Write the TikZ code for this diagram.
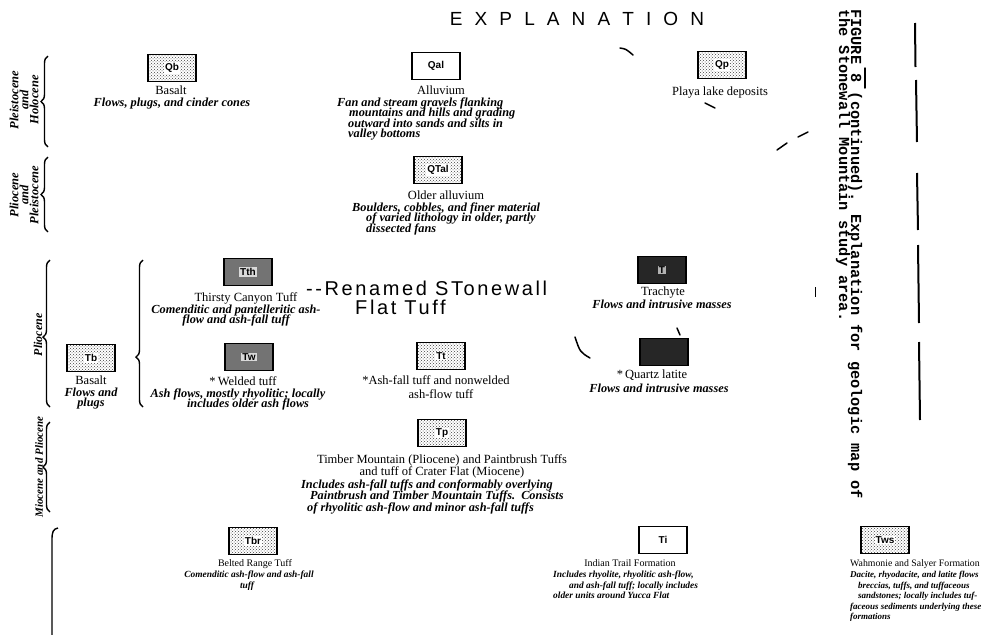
\documentclass[tikz,border=0pt]{standalone}
\usepackage{fontspec}
\setmainfont{Liberation Serif}
\newfontfamily\sansf{Liberation Sans}
\newfontfamily\monof{Liberation Mono}
\newfontfamily\handf[LetterSpace=13]{Liberation Sans}
\newfontfamily\titlef[LetterSpace=36]{Liberation Sans}
\usetikzlibrary{patterns,decorations.pathreplacing}
\begin{document}
\begin{tikzpicture}[x=1pt,y=-1pt,
  ubox/.style={draw,line width=1.6pt,minimum width=48pt,minimum height=27pt,inner sep=0pt},
  stip/.style={ubox,pattern=crosshatch dots,pattern color=black!75},
  darkbox/.style={ubox,fill=black!55},
  blackbox/.style={ubox,fill=black!85},
  sym/.style={font=\sansf\bfseries\fontsize{10}{10}\selectfont,fill=white,inner sep=1pt},
  ttl/.style={font=\fontsize{12.5}{12.5}\selectfont,inner sep=0pt,anchor=base},
  dsc/.style={font=\bfseries\itshape\fontsize{12.3}{12.3}\selectfont,inner sep=0pt,anchor=base},
  dscw/.style={dsc,anchor=base west},
  sttl/.style={font=\fontsize{10}{10}\selectfont,inner sep=0pt,anchor=base},
  sdsc/.style={font=\bfseries\itshape\fontsize{9.4}{9.4}\selectfont,inner sep=0pt,anchor=base},
  sdscw/.style={sdsc,anchor=base west},
  era/.style={font=\bfseries\itshape\fontsize{12.5}{10}\selectfont,rotate=90,align=center,inner sep=0pt},
  brc/.style={decorate,decoration={brace,amplitude=7pt,aspect=#1},line width=1.4pt},
  brc/.default=0.5,
  penmark/.style={line width=1.5pt,line cap=round},
  capline/.style={rotate=-90,anchor=base west,inner sep=0pt,font=\monof\bfseries\fontsize{15.3}{15.3}\selectfont}
]
\useasboundingbox (0,0) rectangle (989,635);

% title and caption
\node (title) at (577,19) {\titlef\fontsize{19}{19}\selectfont E X P L A N A T I O N};
\node[capline] (cap1) at (851,9) {FIGURE 8 (continued). Explanation for geologic map of};
\node[capline] (cap2) at (839,9) {the Stonewall Mountain study area.};

% vertical broken rule at right
\foreach \a/\b/\c/\d in {915/23/915.5/67, 916/80/917/142, 917/173/918/230, 918/245/919/323, 919/342/920/420}
  \draw[line width=2pt] (\a,\b) -- (\c,\d);

% era braces and labels
\draw[brc] (48,147) -- (48,56);
\node[era] (e1) at (24,100) {Pleistocene\\and\\Holocene};
\draw[brc] (48,232) -- (48,157);
\node[era] (e2) at (24,195) {Pliocene\\and\\Pleistocene};
\draw[brc=0.476] (50,407) -- (50,260);
\node[era,font=\bfseries\itshape\fontsize{12}{12}\selectfont] (e3) at (38,335) {Pliocene};
\draw[brc] (50,512) -- (50,422);
\node[era,font=\bfseries\itshape\fontsize{11}{11}\selectfont] (e4) at (39,467) {Miocene and Pliocene};
\draw[line width=1.4pt] (58,528) .. controls (53,529) and (52,532) .. (52,540) -- (52,640);
\draw[brc=0.34] (143,407) -- (143,260);

% Qb
\node[stip] (qb) at (172,68) {};
\node[sym] (qbs) at (qb) {Qb};
\node[ttl] (qbt) at (171,94) {Basalt};
\node[dsc] (qbd) at (172,106) {Flows, plugs, and cinder cones};

% Qal
\node[ubox] (qal) at (436,66) {\sansf\bfseries\fontsize{10}{10}\selectfont Qal};
\node[ttl] (qalt) at (441,94) {Alluvium};
\node[dscw] (qald1) at (337,106) {Fan and stream gravels flanking};
\node[dscw] (qald2) at (349,116.5) {mountains and hills and grading};
\node[dscw] (qald3) at (348,127) {outward into sands and silts in};
\node[dscw] (qald4) at (348,137.5) {valley bottoms};

% Qp
\node[stip] (qp) at (722,65) {};
\node[sym] (qps) at (qp) {Qp};
\node[ttl] (qpt) at (720,95) {Playa lake deposits};

% QTal
\node[stip] (qtal) at (438,170) {};
\node[sym] (qtals) at (qtal) {QTal};
\node[ttl] (qtalt) at (446,199) {Older alluvium};
\node[dscw] (qtald1) at (352,211) {Boulders, cobbles, and finer material};
\node[dscw] (qtald2) at (366,221.5) {of varied lithology in older, partly};
\node[dscw] (qtald3) at (366,232) {dissected fans};

% Thirsty Canyon Tuff
\node[darkbox] (tth) at (248,272) {};
\node[sym,fill=black!15] (tths) at (tth) {Tth};
\node[ttl] (ttht) at (246,301) {Thirsty Canyon Tuff};
\node[dsc] (tthd1) at (236,313) {Comenditic and pantelleritic ash-};
\node[dsc] (tthd2) at (236,323.5) {flow and ash-fall tuff};
\node[align=left,anchor=north west,inner sep=0pt,font=\handf\fontsize{20}{19}\selectfont] (hand) at (306,281)
  {--Renamed STonewall\\\hspace*{49pt}Flat Tuff};

% Welded tuff
\node[darkbox] (tw) at (249,357) {};
\node[sym,fill=black!15] (tws0) at (tw) {Tw};
\node[ttl] (twt) at (243,385) {*\,Welded tuff};
\node[dsc] (twd1) at (238,397) {Ash flows, mostly rhyolitic; locally};
\node[dsc] (twd2) at (248,407.5) {includes older ash flows};

% Basalt (Pliocene)
\node[stip] (tb) at (91,358) {};
\node[sym] (tbs) at (tb) {Tb};
\node[ttl] (tbt) at (91,384) {Basalt};
\node[dsc] (tbd1) at (91,396) {Flows and};
\node[dsc] (tbd2) at (91,406.5) {plugs};

% Ash-fall tuff
\node[stip] (tt) at (441,356) {};
\node[sym] (tts) at (tt) {Tt};
\node[ttl] (ttt1) at (436,384) {*Ash-fall tuff and nonwelded};
\node[ttl] (ttt2) at (441,398) {ash-flow tuff};

% Trachyte
\node[blackbox] (tr) at (662,270) {};
\node[sym,fill=black!30] (trs) at (tr) {T};
\node[ttl] (trt) at (663,295) {Trachyte};
\node[dsc] (trd) at (662,308) {Flows and intrusive masses};

% Quartz latite
\node[blackbox] (ql) at (664,352) {};
\node[ttl] (qlt) at (652,378) {*\,Quartz latite};
\node[dsc] (qld) at (659,392) {Flows and intrusive masses};

% Timber Mountain / Paintbrush
\node[stip] (tp) at (442,433) {};
\node[sym] (tps) at (tp) {Tp};
\node[ttl] (tpt1) at (442,463) {Timber Mountain (Pliocene) and Paintbrush Tuffs};
\node[ttl] (tpt2) at (442,475) {and tuff of Crater Flat (Miocene)};
\node[dscw] (tpd1) at (301,488) {Includes ash-fall tuffs and conformably overlying};
\node[dscw] (tpd2) at (310,499.5) {Paintbrush and Timber Mountain Tuffs.\enspace Consists};
\node[dscw] (tpd3) at (307,511) {of rhyolitic ash-flow and minor ash-fall tuffs};

% Belted Range Tuff
\node[stip] (tbr) at (253,541) {};
\node[sym] (tbrs) at (tbr) {Tbr};
\node[sttl] (tbrt) at (255,566) {Belted Range Tuff};
\node[sdsc] (tbrd1) at (249,577.5) {Comenditic ash-flow and ash-fall};
\node[sdsc] (tbrd2) at (247,588) {tuff};

% Indian Trail Formation
\node[ubox] (ti) at (663,540) {\sansf\bfseries\fontsize{10}{10}\selectfont Ti};
\node[sttl] (tit) at (630,566) {Indian Trail Formation};
\node[sdscw] (tid1) at (553,577.5) {Includes rhyolite, rhyolitic ash-flow,};
\node[sdscw] (tid2) at (569,588) {and ash-fall tuff; locally includes};
\node[sdscw] (tid3) at (553,598.5) {older units around Yucca Flat};

% Wahmonie and Salyer Formations
\node[stip] (tws) at (885,540) {};
\node[sym] (twss) at (tws) {Tws};
\node[sttl,font=\fontsize{9.8}{9.8}\selectfont,anchor=base west] (twst) at (850,566) {Wahmonie and Salyer Formation};
\node[sdscw,font=\bfseries\itshape\fontsize{9}{9}\selectfont] (twsd1) at (850,577.5) {Dacite, rhyodacite, and latite flows};
\node[sdscw,font=\bfseries\itshape\fontsize{9}{9}\selectfont] (twsd2) at (858,588) {breccias, tuffs, and tuffaceous};
\node[sdscw,font=\bfseries\itshape\fontsize{9}{9}\selectfont] (twsd3) at (858,598.5) {sandstones; locally includes tuf-};
\node[sdscw,font=\bfseries\itshape\fontsize{9}{9}\selectfont] (twsd4) at (850,609) {faceous sediments underlying these};
\node[sdscw,font=\bfseries\itshape\fontsize{9}{9}\selectfont] (twsd5) at (850,619.5) {formations};

% stray pen marks
\draw[penmark] (620,48) .. controls (626,49) .. (633,55);
\draw[penmark] (705,103) -- (715,108);
\draw[penmark] (777,150) -- (787,143);
\draw[penmark] (798,137) -- (808,132);
\draw[penmark] (575,337) .. controls (580,352) .. (590,358);
\draw[penmark] (677,328) -- (680,335);
\draw[penmark] (865,68) -- (865,88);
\draw[line width=1pt] (815,287) -- (815,297);
\end{tikzpicture}
\end{document}
